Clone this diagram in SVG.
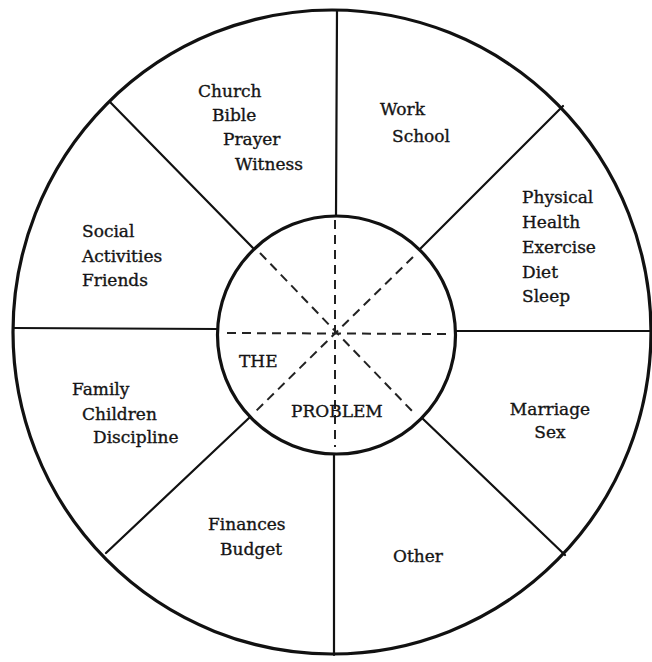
<svg xmlns="http://www.w3.org/2000/svg" width="652" height="662" viewBox="0 0 652 662">
<style>
.lbl{font-family:"DejaVu Serif","Liberation Serif",serif;font-size:17px;fill:#151515;stroke:#151515;stroke-width:0.35}
.solid{stroke:#111;stroke-width:2.2;fill:none;stroke-linecap:round}
.ring{stroke:#111;stroke-width:3.2;fill:none}
.dash{stroke:#222;stroke-width:2;fill:none;stroke-dasharray:9 6}
</style>
<rect width="652" height="662" fill="#fff"/>
<g id="wheel">
<ellipse class="ring" cx="332" cy="332" rx="319" ry="322"/>
</g>
<g id="connectors">
<line class="solid" x1="337" y1="10" x2="336" y2="216"/>
<line class="solid" x1="334" y1="454" x2="334" y2="655"/>
<line class="solid" x1="13" y1="328" x2="218" y2="329"/>
<line class="solid" x1="455" y1="331" x2="651" y2="331"/>
<line class="solid" x1="110" y1="102" x2="253" y2="248"/>
<line class="solid" x1="563" y1="106" x2="420" y2="249"/>
<line class="solid" x1="106" y1="553" x2="249" y2="418"/>
<line class="solid" x1="565" y1="555" x2="422" y2="418"/>
<line class="dash" x1="335" y1="220" x2="335" y2="447"/>
<line class="dash" x1="227" y1="333" x2="447" y2="334"/>
<line class="dash" x1="260" y1="253" x2="413" y2="412"/>
<line class="dash" x1="413" y1="257" x2="255" y2="412"/>
</g>
<g id="problem">
<circle class="ring" cx="336.5" cy="335" r="119"/>
<text class="lbl" x="239" y="367">THE</text>
<text class="lbl" x="291" y="417">PROBLEM</text>
</g>
<g id="church">
<text class="lbl" x="198" y="97">Church</text>
<text class="lbl" x="212" y="121">Bible</text>
<text class="lbl" x="223" y="145">Prayer</text>
<text class="lbl" x="235" y="170">Witness</text>
</g>
<g id="work">
<text class="lbl" x="380" y="115">Work</text>
<text class="lbl" x="392" y="142">School</text>
</g>
<g id="physical">
<text class="lbl" x="522" y="203">Physical</text>
<text class="lbl" x="522" y="228">Health</text>
<text class="lbl" x="522" y="253">Exercise</text>
<text class="lbl" x="522" y="278">Diet</text>
<text class="lbl" x="522" y="302">Sleep</text>
</g>
<g id="social">
<text class="lbl" x="82" y="237">Social</text>
<text class="lbl" x="82" y="262">Activities</text>
<text class="lbl" x="82" y="286">Friends</text>
</g>
<g id="family">
<text class="lbl" x="72" y="395">Family</text>
<text class="lbl" x="82" y="420">Children</text>
<text class="lbl" x="93" y="443">Discipline</text>
</g>
<g id="marriage">
<text class="lbl" x="550" y="415" text-anchor="middle">Marriage</text>
<text class="lbl" x="550" y="438" text-anchor="middle">Sex</text>
</g>
<g id="finances">
<text class="lbl" x="208" y="530">Finances</text>
<text class="lbl" x="220" y="555">Budget</text>
</g>
<g id="other">
<text class="lbl" x="393" y="562">Other</text>
</g>
</svg>
